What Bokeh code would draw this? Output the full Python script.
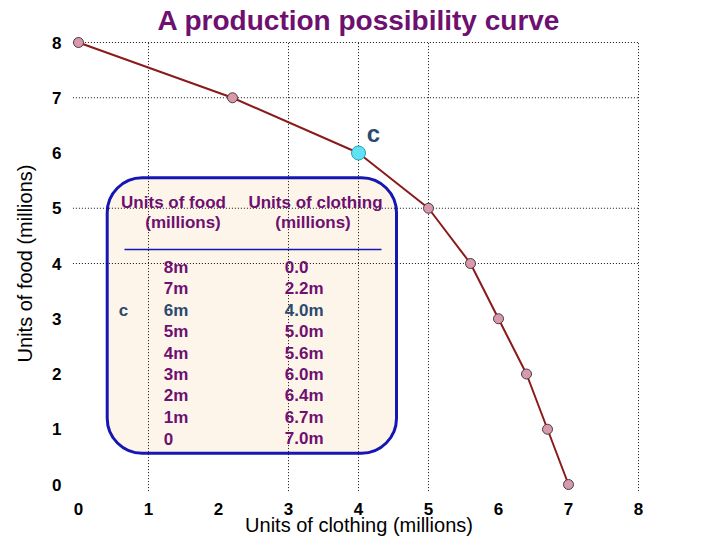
from bokeh.plotting import figure
from bokeh.models import Range1d, BoxAnnotation, Label, FixedTicker, ColumnDataSource
from bokeh.embed import file_html
from bokeh.resources import INLINE
from bokeh.core.properties import value

# ---------------- data ----------------
food = [8, 7, 6, 5, 4, 3, 2, 1, 0]
clothing = [0.0, 2.2, 4.0, 5.0, 5.6, 6.0, 6.4, 6.7, 7.0]
food_labels = ["8m", "7m", "6m", "5m", "4m", "3m", "2m", "1m", "0"]
clothing_labels = ["0.0", "2.2m", "4.0m", "5.0m", "5.6m", "6.0m", "6.4m", "6.7m", "7.0m"]
point_c_index = 2
point_c_name = "c"
x_ticks = [0, 1, 2, 3, 4, 5, 6, 7, 8]
y_ticks = [0, 1, 2, 3, 4, 5, 6, 7, 8]
x_grid = [1, 3, 4, 5, 8]
y_grid = [4, 5, 7, 8]
title_text = "A production possibility curve"
x_title = "Units of clothing (millions)"
y_title = "Units of food (millions)"
header_food = ["Units of food", "(millions)"]
header_cloth = ["Units of clothing", "(millions)"]

# ---------------- styles ----------------
PURPLE = "#6E1070"
SLATE = "#2B4A6E"
BLUE = "#1616B4"
PX_X = 70.0      # pixels per x unit
PX_Y = 55.25     # pixels per y unit

def sx(px):  # screen x pixel -> data
    return (px - 78) / PX_X

def sy(py):  # screen y pixel -> data
    return 8 - (py - 42) / PX_Y

p = figure(width=720, height=540,
           x_range=Range1d(-6 / PX_X, 8.1),
           y_range=Range1d(-8 / PX_Y, 8 + 8 / PX_Y),
           output_backend="svg", toolbar_location=None,
           min_border_left=72, min_border_right=75,
           min_border_top=34, min_border_bottom=48)
p.xgrid.visible = False
p.ygrid.visible = False
p.outline_line_color = None
p.background_fill_color = "white"
p.border_fill_color = "white"

p.title.text = title_text
p.title.align = "center"
p.title.text_font = "Liberation Sans"
p.title.text_font_style = "bold"
p.title.text_font_size = "28px"
p.title.text_color = PURPLE
p.title.standoff = -3

for ax, ticks in ((p.xaxis[0], x_ticks), (p.yaxis[0], y_ticks)):
    ax.ticker = FixedTicker(ticks=ticks)
    ax.axis_line_color = None
    ax.major_tick_line_color = None
    ax.minor_tick_line_color = None
    ax.major_tick_out = 0
    ax.major_tick_in = 0
    ax.minor_tick_out = 0
    ax.major_label_text_font = "Liberation Sans"
    ax.major_label_text_font_style = "bold"
    ax.major_label_text_font_size = "17px"
    ax.major_label_text_color = "black"
    ax.axis_label_text_font = "Liberation Sans"
    ax.axis_label_text_font_style = "normal"
    ax.axis_label_text_font_size = "20px"
    ax.axis_label_text_color = "black"

p.xaxis.axis_label = x_title
p.yaxis.axis_label = y_title
p.xaxis.major_label_standoff = 10
p.xaxis.axis_label_standoff = -4
p.yaxis.major_label_standoff = 11
p.yaxis.axis_label_standoff = 13

# table box (underlay so grid shows through)
box = BoxAnnotation(left=sx(106.7), right=sx(396), top=sy(177.3), bottom=sy(452.7),
                    fill_color="#FDF5EA", fill_alpha=1.0,
                    line_color=BLUE, line_alpha=1.0, line_width=3, border_radius=35,
                    level="underlay")
p.add_layout(box)

# grid lines (dotted)
p.segment(x0=x_grid, y0=[-0.12] * len(x_grid), x1=x_grid, y1=[8] * len(x_grid),
          line_color="#111111", line_width=1, line_dash="1 2")
p.segment(x0=[-0.08] * len(y_grid), y0=y_grid, x1=[8] * len(y_grid), y1=y_grid,
          line_color="#111111", line_width=1, line_dash="1 2")

# curve and points
p.line(clothing, food, line_color="#8B1A1A", line_width=2)
p.scatter(clothing, food, size=10, fill_color="#D899AC", line_color="#4A3A40", line_width=1)
p.scatter([clothing[point_c_index]], [food[point_c_index]], size=14,
          fill_color="#5FE3F3", line_color="#2A9FB8", line_width=1)
p.add_layout(Label(x=clothing[point_c_index] + 15 / PX_X, y=food[point_c_index] + 20 / PX_Y,
                   text=point_c_name, text_align="center", text_baseline="middle",
                   text_font="Liberation Sans", text_font_style="bold",
                   text_font_size="24px", text_color=SLATE))

# table headers
hdr_src = ColumnDataSource(dict(
    x=[sx(173), sx(182.5), sx(315), sx(312.5)],
    y=[sy(201.7), sy(221.7), sy(201.7), sy(221.7)],
    t=[header_food[0], header_food[1], header_cloth[0], header_cloth[1]]))
p.text(x="x", y="y", text="t", source=hdr_src, text_align="center", text_baseline="middle",
       text_font=value("Liberation Sans"), text_font_style="bold", text_font_size="17px",
       text_color=PURPLE)

# separator line
p.segment(x0=[sx(124)], y0=[sy(249)], x1=[sx(381)], y1=[sy(249)],
          line_color=BLUE, line_width=1.5)

# table rows
row_top = sy(266.7)
row_step = 21.45 / PX_Y
n = len(food_labels)
row_y = [row_top - i * row_step for i in range(n)]
row_col = [SLATE if i == point_c_index else PURPLE for i in range(n)]
rows = ColumnDataSource(dict(
    xf=[sx(163.3)] * n, xc=[sx(284.3)] * n, y=row_y,
    f=food_labels, c=clothing_labels, col=row_col))
for xk, tk in (("xf", "f"), ("xc", "c")):
    p.text(x=xk, y="y", text=tk, source=rows, text_align="left", text_baseline="middle",
           text_font=value("Liberation Sans"), text_font_style="bold",
           text_font_size="17px", text_color="col")
p.text(x=[sx(123)], y=[row_y[point_c_index]], text=[point_c_name], text_align="center",
       text_baseline="middle", text_font=value("Liberation Sans"), text_font_style="bold",
       text_font_size="17px", text_color=SLATE)

open("out.html", "w").write(file_html(p, INLINE))
